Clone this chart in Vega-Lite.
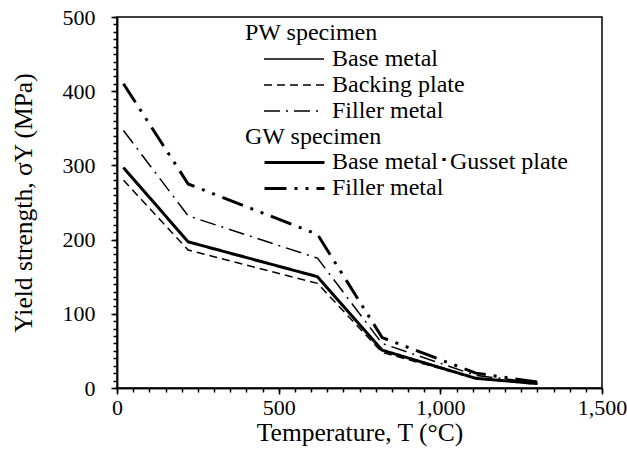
{
  "$schema": "https://vega.github.io/schema/vega-lite/v6.json",
  "width": 485,
  "height": 371,
  "autosize": {"type": "none"},
  "padding": {"left": 117, "top": 17, "right": 25, "bottom": 79},
  "data": {
    "values": [
      {"T": 20, "sy": 297, "series": "Base metal", "group": "PW"},
      {"T": 220, "sy": 197, "series": "Base metal", "group": "PW"},
      {"T": 620, "sy": 150, "series": "Base metal", "group": "PW"},
      {"T": 820, "sy": 51, "series": "Base metal", "group": "PW"},
      {"T": 1110, "sy": 13, "series": "Base metal", "group": "PW"},
      {"T": 1300, "sy": 6, "series": "Base metal", "group": "PW"},
      {"T": 20, "sy": 280, "series": "Backing plate", "group": "PW"},
      {"T": 220, "sy": 186, "series": "Backing plate", "group": "PW"},
      {"T": 620, "sy": 141, "series": "Backing plate", "group": "PW"},
      {"T": 820, "sy": 48, "series": "Backing plate", "group": "PW"},
      {"T": 1110, "sy": 13, "series": "Backing plate", "group": "PW"},
      {"T": 1300, "sy": 5, "series": "Backing plate", "group": "PW"},
      {"T": 20, "sy": 347, "series": "Filler metal", "group": "PW"},
      {"T": 220, "sy": 232, "series": "Filler metal", "group": "PW"},
      {"T": 620, "sy": 175, "series": "Filler metal", "group": "PW"},
      {"T": 820, "sy": 60, "series": "Filler metal", "group": "PW"},
      {"T": 1110, "sy": 17, "series": "Filler metal", "group": "PW"},
      {"T": 1300, "sy": 7, "series": "Filler metal", "group": "PW"},
      {"T": 20, "sy": 297, "series": "Base metal･Gusset plate", "group": "GW"},
      {"T": 220, "sy": 197, "series": "Base metal･Gusset plate", "group": "GW"},
      {"T": 620, "sy": 150, "series": "Base metal･Gusset plate", "group": "GW"},
      {"T": 820, "sy": 51, "series": "Base metal･Gusset plate", "group": "GW"},
      {"T": 1110, "sy": 13, "series": "Base metal･Gusset plate", "group": "GW"},
      {"T": 1300, "sy": 6, "series": "Base metal･Gusset plate", "group": "GW"},
      {"T": 20, "sy": 410, "series": "Filler metal", "group": "GW"},
      {"T": 220, "sy": 275, "series": "Filler metal", "group": "GW"},
      {"T": 620, "sy": 207, "series": "Filler metal", "group": "GW"},
      {"T": 820, "sy": 68, "series": "Filler metal", "group": "GW"},
      {"T": 1110, "sy": 20, "series": "Filler metal", "group": "GW"},
      {"T": 1300, "sy": 8, "series": "Filler metal", "group": "GW"}
    ]
  },
  "layer": [
    {
      "transform": [{"filter": "datum.group === 'PW'"}],
      "mark": {"type": "line", "strokeWidth": 1.5, "color": "black"},
      "encoding": {
        "x": {
          "field": "T",
          "type": "quantitative",
          "scale": {"domain": [0, 1500], "nice": false},
          "axis": {
            "orient": "bottom",
            "title": null,
            "values": [0,50,100,150,200,250,300,350,400,450,500,550,600,650,700,750,800,850,900,950,1000,1050,1100,1150,1200,1250,1300,1350,1400,1450,1500],
            "labels": false,
            "ticks": true,
            "tickSize": 4,
            "tickColor": "black",
            "tickWidth": 1.5,
            "zindex": 1
          }
        },
        "y": {
          "field": "sy",
          "type": "quantitative",
          "scale": {"domain": [0, 500], "nice": false},
          "axis": {
            "orient": "left",
            "title": null,
            "values": [0,10,20,30,40,50,60,70,80,90,100,110,120,130,140,150,160,170,180,190,200,210,220,230,240,250,260,270,280,290,300,310,320,330,340,350,360,370,380,390,400,410,420,430,440,450,460,470,480,490,500],
            "labels": false,
            "ticks": true,
            "tickSize": 4,
            "tickColor": "black",
            "tickWidth": 1.5,
            "zindex": 1
          }
        },
        "strokeDash": {
          "field": "series",
          "type": "nominal",
          "scale": {"domain": ["Base metal", "Backing plate", "Filler metal"], "range": [[1, 0], [8, 5], [16, 6, 2, 6]]},
          "legend": {"title": "PW specimen", "legendX": 128, "legendY": 4, "symbolStrokeWidth": 1.5, "labelOffset": 7}
        }
      }
    },
    {
      "transform": [{"filter": "datum.group === 'GW'"}],
      "mark": {"type": "line", "strokeWidth": 3, "color": "black"},
      "encoding": {
        "x": {
          "field": "T",
          "type": "quantitative",
          "scale": {"domain": [0, 1500], "nice": false},
          "axis": {
            "orient": "bottom",
            "title": "Temperature, T (°C)",
            "values": [0, 500, 1000, 1500],
            "format": ",d",
            "ticks": true,
            "tickSize": 6,
            "tickColor": "black",
            "tickWidth": 1.5,
            "labelFlush": false,
            "labelOverlap": false,
            "labelPadding": 3,
            "titlePadding": 2,
            "zindex": 1
          }
        },
        "y": {
          "field": "sy",
          "type": "quantitative",
          "scale": {"domain": [0, 500], "nice": false},
          "axis": {
            "orient": "left",
            "title": "Yield strength, σY (MPa)",
            "values": [0, 100, 200, 300, 400, 500],
            "ticks": true,
            "tickSize": 6,
            "tickColor": "black",
            "tickWidth": 1.5,
            "labelOverlap": false,
            "labelPadding": 16,
            "titlePadding": 26,
            "zindex": 1
          }
        },
        "strokeDash": {
          "field": "series",
          "type": "nominal",
          "scale": {"domain": ["Base metal･Gusset plate", "Filler metal"], "range": [[1, 0], [22, 8, 3, 8, 3, 8]]},
          "legend": {"title": "GW specimen", "legendX": 128, "legendY": 107.5, "symbolStrokeWidth": 3, "labelOffset": 6}
        }
      }
    }
  ],
  "resolve": {
    "scale": {"strokeDash": "independent"},
    "axis": {"x": "independent", "y": "independent"}
  },
  "config": {
    "font": "Liberation Serif",
    "view": {"stroke": "black", "strokeWidth": 1.5},
    "axis": {
      "domainColor": "black", "domainWidth": 1.5,
      "labelColor": "black", "titleColor": "black",
      "labelFont": "Liberation Serif", "titleFont": "Liberation Serif",
      "labelFontSize": 22, "titleFontSize": 25.5, "titleFontWeight": "normal",
      "grid": false
    },
    "legend": {
      "orient": "none",
      "titleFont": "Liberation Serif", "labelFont": "Liberation Serif",
      "titleFontSize": 24, "titleFontWeight": "normal", "titleColor": "black",
      "labelFontSize": 24, "labelColor": "black",
      "labelLimit": 400, "titleLimit": 400,
      "symbolType": "stroke", "symbolSize": 3600,
      "symbolStrokeColor": "black", "symbolOffset": 18,
      "clipHeight": 25.8, "rowPadding": 0, "titlePadding": 1, "padding": 0
    }
  }
}
